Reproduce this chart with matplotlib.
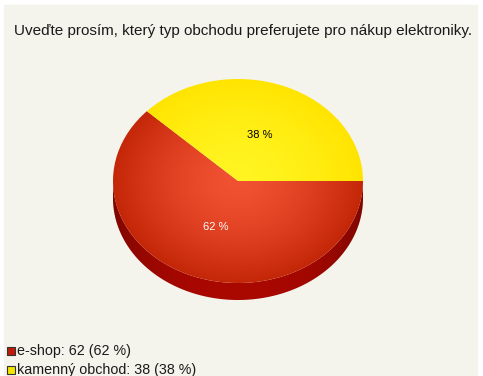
import numpy as np
import matplotlib
matplotlib.use("Agg")
import matplotlib.pyplot as plt
from matplotlib.patches import Wedge, Polygon, Rectangle

title = "Uveďte prosím, který typ obchodu preferujete pro nákup elektroniky."
labels = ["e-shop", "kamenný obchod"]
counts = [62, 38]
top_inner = ["#f05232", "#fff522"]
top_outer = ["#c42608", "#ffe400"]
legend_colors = ["#c01a0a", "#f4e400"]
side_color = "#a80800"
text_colors = ["white", "black"]

W, H = 483, 376
fig = plt.figure(figsize=(W / 100, H / 100), dpi=100, facecolor="white")
fig.patches.append(Rectangle((4 / W, 0), (473) / W, (H - 5) / H,
                             transform=fig.transFigure, color="#f4f3ec", zorder=-1))

fig.text(243 / W, 1 - 31 / H, title, ha="center", va="center",
         fontsize=11.0, family="Liberation Sans", color="#1a1a1a")

# pie axes: unit circle stretched into an ellipse
rx, ry = 125, 102
cx, cy = 238, H - 181
lim = 1.3
ax = fig.add_axes([(cx - lim * rx) / W, (cy - lim * ry) / H,
                   2 * lim * rx / W, 2 * lim * ry / H])
ax.set_xlim(-lim, lim)
ax.set_ylim(-lim, lim)
ax.set_aspect("auto")
ax.axis("off")

total = sum(counts)
fracs = [c / total for c in counts]
# kamenný obchod starts at 0 deg going ccw, e-shop fills the rest
a0 = 360 * fracs[1]
bounds = [(a0, 360.0), (0.0, a0)]

depth = 17 / ry
t = np.linspace(np.pi, 2 * np.pi, 200)
side = np.concatenate([np.c_[np.cos(t), np.sin(t)],
                       np.c_[np.cos(t[::-1]), np.sin(t[::-1]) - depth]])
ax.add_patch(Polygon(side, closed=True, facecolor=side_color, edgecolor="none"))
# darken side toward the edges
xs = np.linspace(-1, 1, 300)
shade = np.abs(xs)[None, :] ** 3
im = ax.imshow(np.dstack([np.zeros((1, 300, 3)), shade[..., None] * 0.25]),
               extent=[-1, 1, -1 - depth, 0], aspect="auto", zorder=2)
im.set_clip_path(Polygon(side, closed=True, transform=ax.transData))

n = 300
gx, gy = np.meshgrid(np.linspace(-1, 1, n), np.linspace(-1, 1, n))
r = np.clip(np.hypot(gx, gy), 0, 1)
for (th1, th2), ci, co in zip(bounds, top_inner, top_outer):
    ci = np.array(matplotlib.colors.to_rgb(ci))
    co = np.array(matplotlib.colors.to_rgb(co))
    img = ci[None, None, :] * (1 - r[..., None] ** 1.5) + co[None, None, :] * r[..., None] ** 1.5
    w = Wedge((0, 0), 1, th1, th2, facecolor="none", edgecolor="none", zorder=3)
    ax.add_patch(w)
    im = ax.imshow(img, extent=[-1, 1, -1, 1], origin="lower", aspect="auto", zorder=3)
    im.set_clip_path(w)

for (th1, th2), c, tc in zip(bounds, fracs, text_colors):
    mid = np.deg2rad((th1 + th2) / 2)
    ax.text(0.48 * np.cos(mid), 0.48 * np.sin(mid), f"{round(c * 100)} %",
            ha="center", va="center", fontsize=8, color=tc,
            family="Liberation Sans", zorder=5)

# legend rows at bottom-left
for i, (lab, cnt, col) in enumerate(zip(labels, counts, legend_colors)):
    y = H - 351 - 19 * i
    fig.patches.append(Rectangle((7 / W, (y - 4) / H), 8 / W, 8 / H,
                                 transform=fig.transFigure, facecolor=col,
                                 edgecolor="#333333", lw=0.8))
    fig.text(17 / W, y / H, f"{lab}: {cnt} ({round(cnt / total * 100)} %)",
             ha="left", va="center", fontsize=10.3, family="Liberation Sans",
             color="#1a1a1a")

fig.savefig("out.png", dpi=100, facecolor=fig.get_facecolor())
